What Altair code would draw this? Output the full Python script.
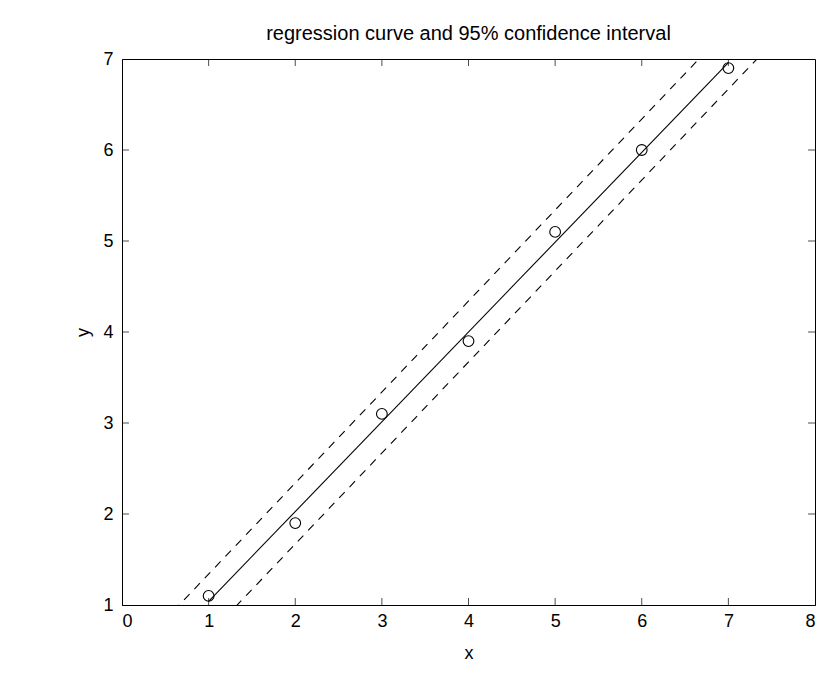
import altair as alt
import pandas as pd

# Observations
x_obs = [1, 2, 3, 4, 5, 6, 7]
y_obs = [1.1, 1.9, 3.1, 3.9, 5.1, 6.0, 6.9]

# Fitted regression line over the observed range
fit_x = [1, 7]
fit_y = [1.04, 6.96]

# 95% confidence limits (drawn across the whole axis and clipped)
band_x = [0, 8]
band_upper = [0.34, 8.34]
band_lower = [-0.33, 7.67]

# Tick positions
x_ticks = [0, 1, 2, 3, 4, 5, 6, 7, 8]
y_ticks = [1, 2, 3, 4, 5, 6, 7]
x_inner_ticks = [1, 2, 3, 4, 5, 6, 7]
y_inner_ticks = [2, 3, 4, 5, 6]

FONT = "Liberation Sans"

obs = pd.DataFrame({"x": x_obs, "y": y_obs})
fit = pd.DataFrame({"x": fit_x, "y": fit_y})
band = pd.concat([
    pd.DataFrame({"x": band_x, "y": band_upper, "limit": "upper"}),
    pd.DataFrame({"x": band_x, "y": band_lower, "limit": "lower"}),
])
xt = pd.DataFrame({"t": x_inner_ticks})
yt = pd.DataFrame({"t": y_inner_ticks})

xs = alt.Scale(domain=[0, 8], nice=False, zero=False)
ys = alt.Scale(domain=[1, 7], nice=False, zero=False)

x_axis = alt.Axis(values=x_ticks, tickSize=0, labelPadding=7, title="x",
                  titlePadding=14, grid=False, format="d")
y_axis = alt.Axis(values=y_ticks, tickSize=0, labelPadding=9, title="y",
                  titlePadding=10, grid=False, format="d")

X = alt.X("x:Q", scale=xs, axis=x_axis)
Y = alt.Y("y:Q", scale=ys, axis=y_axis)

points = alt.Chart(obs).mark_point(
    shape="circle", size=115, filled=False, color="black", strokeWidth=1.1, opacity=1
).encode(x=X, y=Y)

fit_line = alt.Chart(fit).mark_line(color="black", strokeWidth=1.1).encode(x=X, y=Y)

band_lines = alt.Chart(band).mark_line(
    color="black", strokeWidth=1.1, strokeDash=[8, 7], clip=True
).encode(x=X, y=Y, detail="limit:N")

# Inward-pointing tick marks on all four sides of the box
tick_style = dict(color="black", thickness=1, size=7)
bottom_ticks = alt.Chart(xt).mark_tick(orient="vertical", yOffset=-3.5, **tick_style).encode(
    x=alt.X("t:Q", scale=xs, axis=x_axis), y=alt.YDatum(1, scale=ys, axis=y_axis))
top_ticks = alt.Chart(xt).mark_tick(orient="vertical", yOffset=3.5, **tick_style).encode(
    x=alt.X("t:Q", scale=xs, axis=x_axis), y=alt.YDatum(7, scale=ys, axis=y_axis))
left_ticks = alt.Chart(yt).mark_tick(orient="horizontal", xOffset=3.5, **tick_style).encode(
    y=alt.Y("t:Q", scale=ys, axis=y_axis), x=alt.XDatum(0, scale=xs, axis=x_axis))
right_ticks = alt.Chart(yt).mark_tick(orient="horizontal", xOffset=-3.5, **tick_style).encode(
    y=alt.Y("t:Q", scale=ys, axis=y_axis), x=alt.XDatum(8, scale=xs, axis=x_axis))

chart = alt.layer(
    band_lines, fit_line, points, bottom_ticks, top_ticks, left_ticks, right_ticks
).properties(
    width=693,
    height=546,
    title=alt.TitleParams(
        "regression curve and 95% confidence interval",
        fontSize=20, fontWeight="normal", font=FONT, color="black",
        anchor="middle", offset=6,
    ),
    autosize=alt.AutoSizeParams(type="none"),
    padding={"left": 122, "top": 59, "right": 6, "bottom": 72},
    background="white",
).configure_view(
    stroke="black", strokeWidth=1, fill="white"
).configure_axis(
    domainColor="black", domainWidth=1, labelColor="black", titleColor="black",
    labelFont=FONT, titleFont=FONT, labelFontSize=18, titleFontSize=18,
    titleFontWeight="normal",
)

chart.save("out.html", embed_options={"renderer": "svg", "actions": False})
